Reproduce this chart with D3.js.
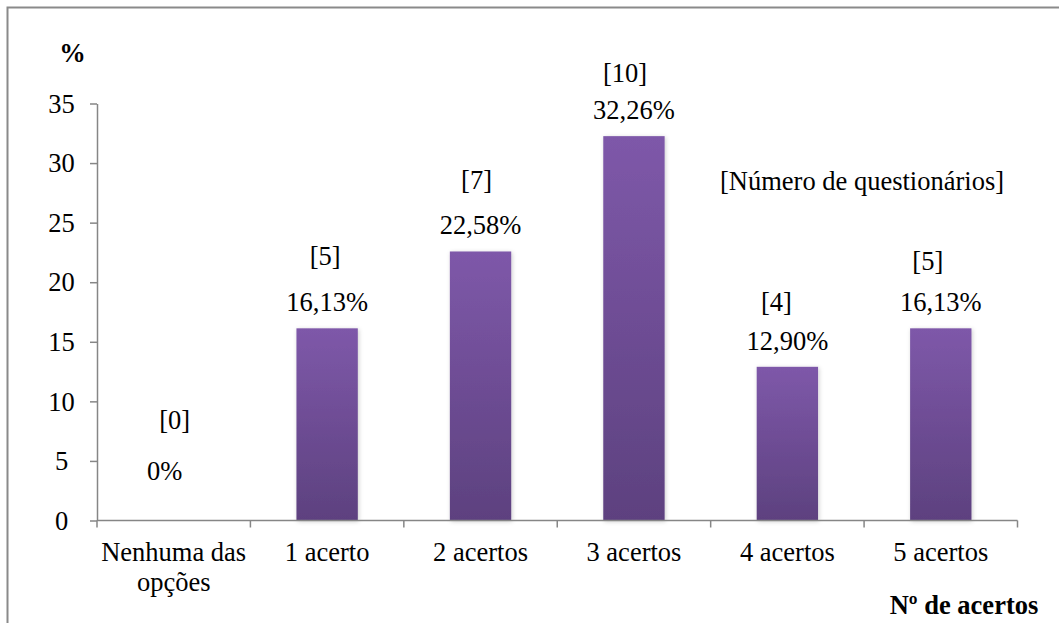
<!DOCTYPE html>
<html>
<head>
<meta charset="utf-8">
<script src="https://cdn.jsdelivr.net/npm/d3@7"></script>
<style>
  html, body { margin: 0; padding: 0; background: #fff; }
  svg { display: block; }
</style>
</head>
<body>
<svg id="chart" width="1059" height="623"></svg>
<script>
// data
const categories = ['Nenhuma das\nopções', '1 acerto', '2 acertos', '3 acertos', '4 acertos', '5 acertos'];
const percents   = [0, 16.13, 22.58, 32.26, 12.90, 16.13];
const counts     = [0, 5, 7, 10, 4, 5];
const yTicks     = [0, 5, 10, 15, 20, 25, 30, 35];

// label placement tweaks (the original labels were moved by hand)
const pctNudge   = [[-9, -23.5], [0, 0], [0, 0], [0, 0], [0, 0], [0, 0]];
const countNudge = [[1, 51], [-2, 46], [-4, 45], [-9, 37], [-11, 39], [-13, 41]];

const W = 1059, H = 623;
const FS = 26.5;
const FONT = '"Liberation Serif", "Times New Roman", serif';
const AX = '#868686';
const svg = d3.select('#chart');

// outer frame (right and bottom run off the picture)
svg.append('rect').attr('x', 7.5).attr('y', 7.5).attr('width', W + 20).attr('height', H + 20)
  .attr('fill', 'none').attr('stroke', '#8a8a8a').attr('stroke-width', 2);

const x = d3.scaleBand().domain(d3.range(categories.length)).range([97, 1017.5]).padding(0);
const y = d3.scaleLinear().domain([0, 35]).range([520.5, 103.5]);
const barW = x.bandwidth() * 0.4;

const defs = svg.append('defs');
const grad = defs.append('linearGradient').attr('id', 'barGrad')
  .attr('x1', 0).attr('y1', 0).attr('x2', 0).attr('y2', 1);
grad.append('stop').attr('offset', '0%').attr('stop-color', '#7e58a9');
grad.append('stop').attr('offset', '100%').attr('stop-color', '#5d417f');
const sh = defs.append('filter').attr('id', 'shadow')
  .attr('x', '-20%').attr('y', '-10%').attr('width', '140%').attr('height', '120%');
sh.append('feDropShadow').attr('dx', 1).attr('dy', 1).attr('stdDeviation', 2)
  .attr('flood-color', '#000').attr('flood-opacity', 0.2);

// bars
svg.append('g').selectAll('rect').data(percents).join('rect')
  .attr('x', (d, i) => x(i) + (x.bandwidth() - barW) / 2)
  .attr('y', d => y(d))
  .attr('width', barW)
  .attr('height', d => y(0) - y(d))
  .attr('fill', 'url(#barGrad)')
  .attr('filter', 'url(#shadow)')
  .style('display', d => d > 0 ? null : 'none');

// y axis
const yAxis = d3.axisLeft(y).tickValues(yTicks).tickSize(7).tickSizeOuter(0).tickFormat(d3.format('d'));
const gy = svg.append('g').attr('transform', 'translate(97,0)').call(yAxis);
gy.select('.domain').attr('stroke', AX).attr('stroke-width', 1.5);
gy.selectAll('.tick line').attr('stroke', AX).attr('stroke-width', 1.5);
gy.selectAll('.tick text')
  .attr('x', -35.5).attr('dy', '0.33em').attr('text-anchor', 'middle')
  .attr('fill', '#000');

// x axis: line, boundary ticks, two-line labels
const gx = svg.append('g');
gx.append('line').attr('x1', x.range()[0]).attr('x2', x.range()[1])
  .attr('y1', y(0)).attr('y2', y(0)).attr('stroke', AX).attr('stroke-width', 1.5);
const bounds = d3.range(categories.length + 1).map(i => x.range()[0] + i * x.step());
gx.selectAll('line.tk').data(bounds).join('line').attr('class', 'tk')
  .attr('x1', d => d).attr('x2', d => d).attr('y1', y(0)).attr('y2', y(0) + 7)
  .attr('stroke', AX).attr('stroke-width', 1.5);
const xl = gx.selectAll('text').data(categories).join('text')
  .attr('text-anchor', 'middle')
  .attr('x', (d, i) => x(i) + x.bandwidth() / 2).attr('y', 561);
xl.each(function(d) {
  const lines = d.split('\n');
  d3.select(this).selectAll('tspan').data(lines).join('tspan')
    .attr('x', d3.select(this).attr('x'))
    .attr('dy', (l, k) => k === 0 ? 0 : 29.5)
    .text(l => l);
});

// data labels
const fmtPct = v => v === 0 ? '0%' : v.toFixed(2).replace('.', ',') + '%';
const lab = svg.append('g').attr('text-anchor', 'middle');
const pctBase = percents.map((v, i) => y(v) - 17 + pctNudge[i][1]);
lab.selectAll('text.pct').data(percents).join('text').attr('class', 'pct')
  .attr('x', (d, i) => x(i) + x.bandwidth() / 2 + pctNudge[i][0])
  .attr('y', (d, i) => pctBase[i])
  .text(fmtPct);
lab.selectAll('text.cnt').data(counts).join('text').attr('class', 'cnt')
  .attr('x', (d, i) => x(i) + x.bandwidth() / 2 + countNudge[i][0])
  .attr('y', (d, i) => pctBase[i] - countNudge[i][1])
  .text(d => `[${d}]`);

// titles / notes
svg.append('text').attr('x', 72.5).attr('y', 62).attr('text-anchor', 'middle')
  .attr('font-weight', 'bold').text('%');
svg.append('text').attr('x', 862).attr('y', 190).attr('text-anchor', 'middle')
  .text('[Número de questionários]');
svg.append('text').attr('x', 964).attr('y', 614).attr('text-anchor', 'middle')
  .attr('font-weight', 'bold').text('Nº de acertos');

// one font for every label
svg.selectAll('text')
  .style('font-family', FONT)
  .style('font-size', FS + 'px')
  .style('fill', '#000');
</script>
</body>
</html>
